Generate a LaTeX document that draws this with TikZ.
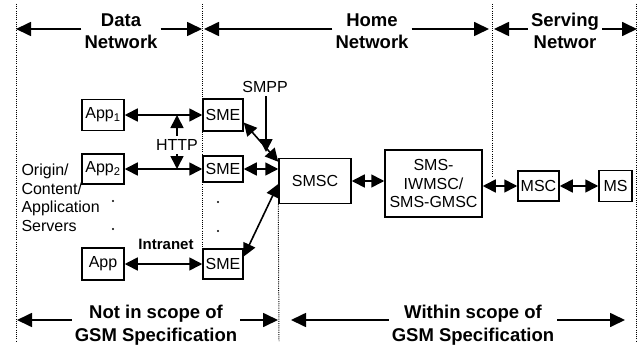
\documentclass[tikz,border=0pt]{standalone}
\usepackage{fontspec}
\setmainfont{Liberation Sans}
\usetikzlibrary{arrows.meta}

\begin{document}
\begin{tikzpicture}[
  x=1pt, y=-1pt,
  font=\fontsize{16}{18.5}\selectfont,
  box/.style={draw, line width=1.5pt, inner sep=1pt, align=center},
  zone/.style={font=\fontsize{18.5}{22.5}\selectfont\bfseries, align=center, inner sep=3pt},
  sep/.style={line width=1pt, dash pattern=on 1pt off 1.2pt},
  span/.style={line width=1.7pt, -{Triangle[length=15pt,width=14pt]}},
  link/.style={line width=1.6pt, {Triangle[length=13pt,width=13pt]}-{Triangle[length=13pt,width=13pt]}},
  oneway/.style={line width=1.6pt, -{Triangle[length=13pt,width=13pt]}}
]
  \useasboundingbox (0,0) rectangle (642,345);

  % application servers and their SMEs
  \node[box, minimum width=42pt, minimum height=31pt] (app1) at (103,115) {App\textsubscript{1}};
  \node[box, minimum width=42pt, minimum height=30pt] (app2) at (103,169) {App\textsubscript{2}};
  \node[box, minimum width=42pt, minimum height=32pt] (app3) at (103,264) {App};
  \node[box, minimum width=40pt, minimum height=32pt] (sme1) at (223,115) {SME};
  \node[box, minimum width=40pt, minimum height=26pt] (sme2) at (223,169) {SME};
  \node[box, minimum width=40pt, minimum height=30pt] (sme3) at (223,264) {SME};

  % GSM side
  \node[box, minimum width=72pt, minimum height=45pt] (smsc) at (315,181) {SMSC};
  \node[box, minimum width=97pt, minimum height=67pt] (iw)   at (433.5,183.5) {SMS-\\IWMSC/\\SMS-GMSC};
  \node[box, minimum width=41pt, minimum height=30pt] (msc)  at (538.5,186) {MSC};
  \node[box, minimum width=33pt, minimum height=31pt] (ms)   at (615.5,186) {MS};

  \node[align=left, anchor=west] (orig) at (18,198) {Origin/\\Content/\\Application\\Servers};
  \node (http) at (177,145) {HTTP};
  \node (smpp) at (265,87) {SMPP};
  \node[font=\fontsize{15}{17}\selectfont\bfseries] (intra) at (166,244) {Intranet};

  % dots between the rows
  \foreach \px/\py in {113/201, 113/229, 218/202, 218/231}
    \fill (\px,\py) circle (1.2pt);

  % zone borders
  \draw[sep] (16,4) -- (16,341);
  \draw[sep] (202,4) -- (202,249);
  \draw[sep] (smsc.south west) -- (279,341);
  \draw[sep] (492,4) -- (492,177);
  \draw[sep] (636,4) -- (636,341);

  % links
  \draw[link] (app1) -- (sme1);
  \draw[link] (app2) -- (sme2);
  \draw[link] (app3) -- (sme3);
  \draw[oneway] (http.north) -- (http.north |- app1.east);
  \draw[oneway] (http.south) -- (http.south |- app2.east);
  \coordinate (smppend) at (266,152);
  \draw[oneway] (smpp.south -| smppend) -- (smppend);
  \draw[link] (sme1.-20) -- ([yshift=-4pt]smsc.north west);
  \draw[link] (sme2.east) -- (sme2.east -| smsc.west);
  \draw[link] (sme3.20) -- ([yshift=-3pt]smsc.west);
  \draw[link] (smsc.east) -- (smsc.east -| iw.west);
  \draw[link] (iw.east |- msc.west) -- (msc.west);
  \draw[link] (msc) -- (ms);

  % zone headings
  \coordinate (d0) at (16,29);  \coordinate (d1) at (202,29);
  \coordinate (h0) at (204,29); \coordinate (h1) at (489,29);
  \coordinate (s0) at (494,29); \coordinate (s1) at (637,29);
  \node[zone] (dn) at (121,31) {Data\\Network};
  \node[zone] (hn) at (372,31) {Home\\Network};
  \node[zone] (sn) at (565,31) {Serving\\Networ};
  \draw[span] (dn.west |- d0) -- (d0);
  \draw[span] (dn.east |- d0) -- (d1);
  \draw[span] (hn.west |- h0) -- (h0);
  \draw[span] (hn.east |- h0) -- (h1);
  \draw[span] (sn.west |- s0) -- (s0);
  \draw[span] (sn.east |- s0) -- (s1);

  % scope of the GSM specification
  \coordinate (n0) at (17,320);  \coordinate (n1) at (278,320);
  \coordinate (w0) at (291,320); \coordinate (w1) at (625,320);
  \node[zone] (ns) at (156,325) {Not in scope of\\GSM Specification};
  \node[zone] (ws) at (473,325) {Within scope of\\GSM Specification};
  \draw[span] (ns.west |- n0) -- (n0);
  \draw[span] (ns.east |- n0) -- (n1);
  \draw[span] (ws.west |- w0) -- (w0);
  \draw[span] (ws.east |- w0) -- (w1);
\end{tikzpicture}
\end{document}
